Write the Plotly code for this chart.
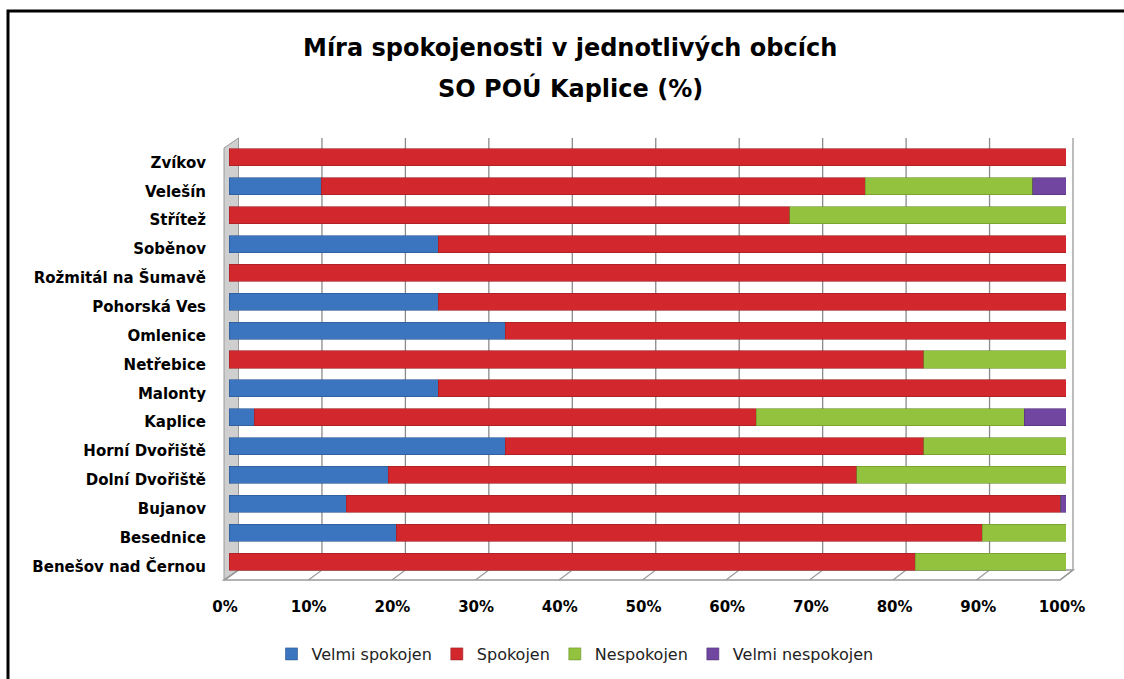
import plotly.graph_objects as go

# ---------------- data ----------------
municipalities = ["Zvíkov", "Velešín", "Střítež", "Soběnov", "Rožmitál na Šumavě",
                  "Pohorská Ves", "Omlenice", "Netřebice", "Malonty", "Kaplice",
                  "Horní Dvořiště", "Dolní Dvořiště", "Bujanov", "Besednice",
                  "Benešov nad Černou"]
velmi_spokojen   = [0, 11, 0, 25, 0, 25, 33, 0, 25, 3, 33, 19, 14, 20, 0]
spokojen         = [100, 65, 67, 75, 100, 75, 67, 83, 75, 60, 50, 56, 85.4, 70, 82]
nespokojen       = [0, 20, 33, 0, 0, 0, 0, 17, 0, 32, 17, 25, 0, 10, 18]
velmi_nespokojen = [0, 4, 0, 0, 0, 0, 0, 0, 0, 5, 0, 0, 0.6, 0, 0]

series_names = ["Velmi spokojen", "Spokojen", "Nespokojen", "Velmi nespokojen"]
tick_values = list(range(0, 101, 10))
tick_labels = [f"{v}%" for v in tick_values]

# ---------------- styling ----------------
colors = ["#3b74bf", "#d2282d", "#93c23e", "#7046a0"]
edge_colors = ["#2a5690", "#9c1c20", "#6a8f2a", "#4f2f75"]
W, H = 1124, 679
L, R, T, B = 229, 58, 143, 103
PW, PH = W - L - R, H - T - B


def px(x):
    return (x - L) / PW


def py(y):
    return (H - B - y) / PH


fig = go.Figure()
for name, vals, col, ecol in zip(series_names,
                                 [velmi_spokojen, spokojen, nespokojen, velmi_nespokojen],
                                 colors, edge_colors):
    fig.add_trace(go.Bar(
        y=municipalities, x=vals, name=name, orientation="h",
        marker=dict(color=col, line=dict(width=0.6, color=ecol)),
    ))

shapes = []
gray = "#9a9a9a"
# back-wall geometry (3D look)
back_x0, back_step = 238.5, 8.345
front_x0, front_step = 225, 8.35
top_back, floor_back, floor_front = 138, 570, 580

# left wall
shapes.append(dict(type="path", xref="paper", yref="paper", layer="below",
                   path=f"M{px(224)},{py(floor_front)} L{px(224)},{py(148)} "
                        f"L{px(back_x0)},{py(top_back)} L{px(back_x0)},{py(floor_back)} Z",
                   fillcolor="#cfcfcf", line=dict(color=gray, width=1)))
# floor
shapes.append(dict(type="path", xref="paper", yref="paper", layer="below",
                   path=f"M{px(224)},{py(floor_front)} L{px(front_x0 + 100 * front_step)},{py(floor_front)} "
                        f"L{px(back_x0 + 100 * back_step)},{py(floor_back)} L{px(back_x0)},{py(floor_back)} Z",
                   fillcolor="white", line=dict(color=gray, width=1.5)))
# gridlines on back wall + floor diagonals
for v in tick_values:
    xb = back_x0 + v * back_step
    xf = front_x0 + v * front_step
    if v > 0:
        shapes.append(dict(type="line", xref="paper", yref="paper", layer="below",
                           x0=px(xb), x1=px(xb), y0=py(floor_back), y1=py(top_back),
                           line=dict(color="#8a8a8a" if v < 100 else gray, width=1.3)))
    shapes.append(dict(type="line", xref="paper", yref="paper", layer="below",
                       x0=px(xf), x1=px(xb), y0=py(floor_front), y1=py(floor_back),
                       line=dict(color=gray, width=1.2)))

# outer black frame (top and left edges visible)
shapes.append(dict(type="path", xref="paper", yref="paper", layer="above",
                   path=f"M{px(8)},{py(H + 5)} L{px(8)},{py(11)} L{px(W + 5)},{py(11)}",
                   line=dict(color="black", width=3)))

annotations = [
    dict(text="Míra spokojenosti v jednotlivých obcích", xref="paper", yref="paper",
         x=px(570), y=py(48), showarrow=False, xanchor="center", yanchor="middle",
         font=dict(family="DejaVu Sans", size=24, color="black", weight="bold")),
    dict(text="SO POÚ Kaplice (%)", xref="paper", yref="paper",
         x=px(570), y=py(88), showarrow=False, xanchor="center", yanchor="middle",
         font=dict(family="DejaVu Sans", size=24, color="black", weight="bold")),
]

fig.update_layout(
    width=W, height=H,
    margin=dict(l=L, r=R, t=T, b=B, autoexpand=False),
    barmode="stack", bargap=0.41,
    paper_bgcolor="white", plot_bgcolor="white",
    shapes=shapes, annotations=annotations,
    font=dict(family="DejaVu Sans", color="black"),
    legend=dict(orientation="h", xref="paper", yref="paper",
                x=px(575), xanchor="center", y=py(654), yanchor="middle",
                font=dict(family="DejaVu Sans", size=16, color="#222"),
                traceorder="normal"),
    xaxis=dict(range=[0, 100], tickvals=tick_values, ticktext=tick_labels,
               showgrid=False, zeroline=False, showline=False, ticks="",
               ticklabelstandoff=20, ticklabelshift=-4,
               tickfont=dict(family="DejaVu Sans", size=15, color="black", weight="bold")),
    yaxis=dict(categoryorder="array", categoryarray=municipalities, autorange="reversed",
               showgrid=False, zeroline=False, showline=False, ticks="",
               ticklabelstandoff=22, ticklabelshift=-5,
               tickfont=dict(family="DejaVu Sans", size=15, color="black", weight="bold")),
)

fig.write_html("out.html", config={"displayModeBar": False},
               post_script="document.body.style.margin='0';document.body.style.padding='0';")
